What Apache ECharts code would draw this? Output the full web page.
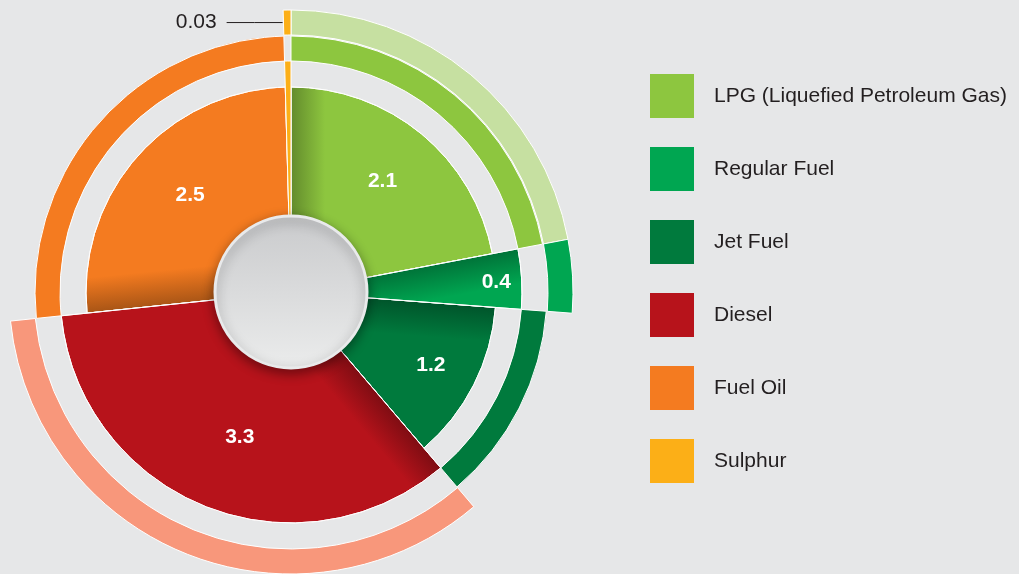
<!DOCTYPE html>
<html>
<head>
<meta charset="utf-8">
<title>Refinery products</title>
<script src="https://cdn.jsdelivr.net/npm/echarts@6/dist/echarts.min.js"></script>
<style>
  html, body { margin: 0; padding: 0; background: #e6e7e8; }
  #chart { width: 1019px; height: 574px; }
</style>
</head>
<body>
<div id="chart"></div>
<script>
// values
const products = ['LPG (Liquefied Petroleum Gas)', 'Regular Fuel', 'Jet Fuel', 'Diesel', 'Fuel Oil', 'Sulphur']
const volumes = [2.1, 0.4, 1.2, 3.3, 2.5, 0.03]

// styling
const colors = ['#8dc63f', '#00a651', '#007a3d', '#b7131b', '#f47b20', '#fcaf17']
const lightColors = ['#c6e0a1', '#00a651', '#007a3d', '#f8977b', '#f47b20', '#fcaf17']
const CENTER = [291, 292]
const HIDDEN = 'rgba(0,0,0,0)'
const labelNudge = { 1: [49, -1], 2: [12, 8], 3: [7, 0], 4: [7, -2] }

const total = volumes.reduce((a, b) => a + b, 0)

function shade(hex, k) {
  const n = parseInt(hex.slice(1), 16)
  const r = Math.round(((n >> 16) & 255) * k)
  const g = Math.round(((n >> 8) & 255) * k)
  const b = Math.round((n & 255) * k)
  return `rgb(${r},${g},${b})`
}

// darker band along the leading edge of each slice, like the original's drop shadow
function slicePaint(i) {
  let before = 0
  for (let j = 0; j < i; j++) before += volumes[j]
  const a = before / total * Math.PI * 2
  const w = 34
  return {
    type: 'linear',
    global: true,
    x: CENTER[0],
    y: CENTER[1],
    x2: CENTER[0] + w * Math.cos(a),
    y2: CENTER[1] + w * Math.sin(a),
    colorStops: [
      { offset: 0, color: shade(colors[i], 0.7) },
      { offset: 1, color: colors[i] }
    ]
  }
}

const noLabel = { show: false }
const noLine = { show: false }

// every ring holds all six values so the angles line up, only some pieces are painted
function ring(radius, paint, label, line, layout) {
  return {
    type: 'pie',
    center: CENTER,
    radius: radius,
    startAngle: 90,
    clockwise: true,
    minAngle: 1.6,
    avoidLabelOverlap: false,
    silent: true,
    labelLayout: layout,
    data: products.map((p, i) => {
      const color = paint(i)
      return {
        name: p,
        value: volumes[i],
        itemStyle: color ? { color: color, borderColor: '#fff', borderWidth: 1 } : { color: HIDDEN, borderWidth: 0 },
        label: label(i),
        labelLine: line(i)
      }
    })
  }
}

const valueLabel = {
  show: true,
  position: 'inside',
  formatter: '{c}',
  color: '#fff',
  fontSize: 21,
  fontWeight: 'bold',
  fontFamily: 'Liberation Sans'
}

function nudge(params) {
  const n = labelNudge[params.dataIndex]
  return n ? { dx: n[0], dy: n[1] } : {}
}

// small sulphur value sits out to the left on a flat leader
function callout(params) {
  if (params.dataIndex !== 5) return {}
  const r = params.rect
  const y = r.y + r.height / 2
  return {
    x: r.x - 66,
    y: y,
    align: 'right',
    verticalAlign: 'middle',
    labelLinePoints: [[r.x, y], [r.x - 28, y], [r.x - 56, y]]
  }
}

const chart = echarts.init(document.getElementById('chart'))
chart.setOption({
  backgroundColor: '#e6e7e8',
  legend: {
    orient: 'vertical',
    left: 650,
    top: 74,
    padding: 0,
    itemWidth: 44,
    itemHeight: 44,
    itemGap: 29,
    icon: 'rect',
    selectedMode: false,
    textStyle: {
      fontSize: 21,
      color: '#231f20',
      fontFamily: 'Liberation Sans',
      padding: [0, 0, 0, 15]
    },
    data: products.map((p, i) => ({ name: p, itemStyle: { color: colors[i], borderWidth: 0 } }))
  },
  series: [
    // short slices
    ring([76, 205], i => (i % 2 === 0 ? slicePaint(i) : null),
      i => (i % 2 === 0 ? valueLabel : noLabel), () => noLine, nudge),
    // tall slices
    ring([76, 231], i => (i % 2 === 1 ? (i === 5 ? colors[i] : slicePaint(i)) : null),
      i => (i % 2 === 1 && i !== 5 ? valueLabel : noLabel), () => noLine, nudge),
    // first outer band
    ring([231, 256], i => (i % 2 === 0 ? colors[i] : null), () => noLabel, () => noLine),
    // second outer band, carries the sulphur callout
    ring([257, 282], i => (i % 2 === 1 || i === 0 ? lightColors[i] : null),
      i => (i === 5
        ? { show: true, position: 'outside', formatter: '{c}', fontSize: 21, color: '#231f20', fontFamily: 'Liberation Sans' }
        : noLabel),
      i => (i === 5
        ? { show: true, length: 0, length2: 0, smooth: false, lineStyle: { color: '#231f20', width: 1 } }
        : noLine),
      callout),
    // centre disc
    {
      type: 'pie',
      center: CENTER,
      radius: [0, 76],
      silent: true,
      label: { show: false },
      data: [{
        value: 1,
        name: 'centre',
        itemStyle: {
          color: {
            type: 'linear', x: 0, y: 0, x2: 0, y2: 1,
            colorStops: [{ offset: 0, color: '#c9cacc' }, { offset: 1, color: '#ebecec' }]
          },
          borderColor: '#e9eaeb',
          borderWidth: 3,
          shadowBlur: 12,
          shadowOffsetY: 4,
          shadowColor: 'rgba(0,0,0,0.4)'
        }
      }]
    }
  ]
})
</script>
</body>
</html>
